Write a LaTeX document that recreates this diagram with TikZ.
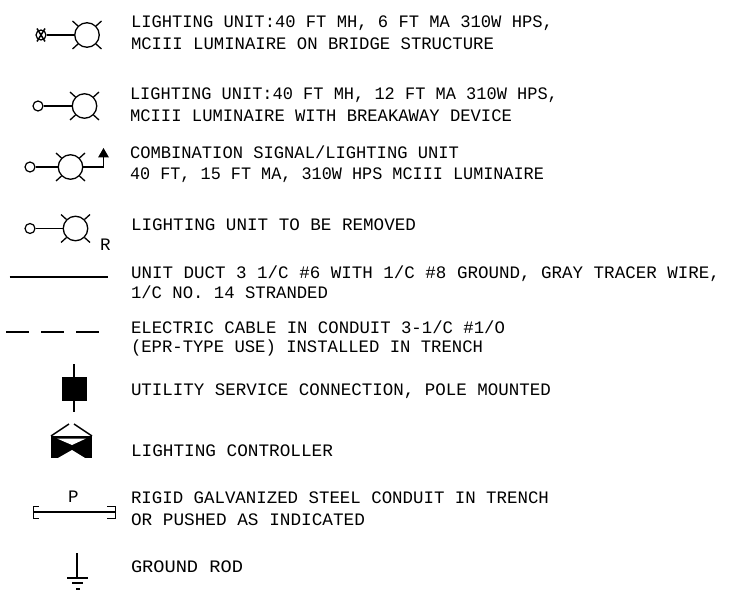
\documentclass[tikz,border=0pt]{standalone}
\usepackage{graphicx}
\usepackage{fontspec}
\setmainfont{Liberation Mono}
\newcommand{\fitline}[2]{\resizebox{#1pt}{\height}{#2}}
\tikzset{
  x=1pt,y=-1pt,
  ln/.style={line width=1.3pt,black},
  lbl/.style={anchor=base west,inner sep=0pt,outer sep=0pt,font=\fontsize{17.5}{17.5}\selectfont},
  lamp/.style={circle,draw,line width=1.3pt,minimum size=24.5pt,inner sep=0pt},
  pole/.style={circle,draw,line width=1.2pt,minimum size=10pt,inner sep=0pt},
  ray/.pic={\draw[ln] (-9,-9)--(-14.5,-14) (9,-9)--(14.5,-14) (-9,9)--(-14.5,14) (9,9)--(14.5,14);}
}
\begin{document}
\begin{tikzpicture}
\useasboundingbox (0,0) rectangle (734,591);
% row 1
\node[pole] (p1) at (41,35) {};
\draw[line width=1.5pt] (37,28.5)--(45,41.5) (45,28.5)--(37,41.5);
\node[lamp] (l1) at (87,35) {};
\pic at (l1.center) {ray};
\draw[ln] (p1)--(l1);
% row 2
\node[pole] (p2) at (38,106) {};
\node[lamp] (l2) at (84.5,106) {};
\pic at (l2.center) {ray};
\draw[ln] (p2)--(l2);
% row 3
\node[pole] (p3) at (30,167) {};
\node[lamp] (l3) at (70.5,167) {};
\pic at (l3.center) {ray};
\coordinate (c3) at (103.5,167);
\coordinate (t3) at (103.5,157);
\draw[ln] (p3)--(l3);
\draw[ln] (l3)--(c3)--(t3);
\fill (98,157.5)--(109,157.5)--(103.5,148)--cycle;
% row 4
\node[pole] (p4) at (30,228.5) {};
\node[lamp] (l4) at (75.5,228.5) {};
\pic at (l4.center) {ray};
\draw[ln] (p4)--(l4);
\node[lbl] (r4) at (100,251) {R};
% line legend
\coordinate (a5) at (9.5,277);\coordinate (b5) at (107.5,277);
\draw[ln] (a5)--(b5);
\coordinate (a6) at (6,332);\coordinate (b6) at (99,332);
\draw[ln,dash pattern=on 23pt off 12pt] (a6)--(b6);
% utility
\node[fill=black,minimum width=25pt,minimum height=24pt,inner sep=0pt] (u) at (74.5,389) {};
\coordinate (ut) at (74,364);\coordinate (ub) at (74,412);
\draw[ln] (ut)--(ub);
% controller
\coordinate (k1) at (51,436);\coordinate (k2) at (92,436);\coordinate (k3) at (92,458);\coordinate (k4) at (51,458);
\fill (k1)--(k2)--(k3)--(k4)--cycle;
\fill[white] (57,438.5)--(86,438.5)--(72,445)--cycle;
\fill[white] (58,458)--(85,458)--(72,450)--cycle;
\draw[line width=1.5pt] (k1)--(69,424) (k2)--(74,424);
% conduit
\coordinate (e1) at (33,512);\coordinate (e2) at (115,512);
\draw[ln] (e1)--(e2);
\draw[line width=0.9pt] (39,506)--(33,506)--(33,518.5)--(39,518.5);
\draw[line width=0.9pt] (107,506)--(115,506)--(115,518.5)--(107,518.5);
\node[lbl] (pp) at (68,502.5) {P};
% ground
\coordinate (g1) at (77,553);\coordinate (g2) at (77,578);
\draw[ln] (g1)--(g2);
\draw[ln] (67,578)--(88,578);
\draw[ln] (72,583)--(83,583);
\draw[ln] (76,589)--(80,589);
% text
\node[lbl] (t1a) at (131,28) {\fitline{422}{LIGHTING UNIT:40 FT MH, 6 FT MA 310W HPS,}};
\node[lbl] (t1b) at (131,49.5) {\fitline{363}{MCIII LUMINAIRE ON BRIDGE STRUCTURE}};
\node[lbl] (t2a) at (130,100) {\fitline{428}{LIGHTING UNIT:40 FT MH, 12 FT MA 310W HPS,}};
\node[lbl] (t2b) at (130,122) {\fitline{382}{MCIII LUMINAIRE WITH BREAKAWAY DEVICE}};
\node[lbl] (t3a) at (130,159) {\fitline{329}{COMBINATION SIGNAL/LIGHTING UNIT}};
\node[lbl] (t3b) at (130,179) {\fitline{414}{40 FT, 15 FT MA, 310W HPS MCIII LUMINAIRE}};
\node[lbl] (t4) at (131,230) {\fitline{285}{LIGHTING UNIT TO BE REMOVED}};
\node[lbl] (t5a) at (131,278) {\fitline{589}{UNIT DUCT 3 1/C \#6 WITH 1/C \#8 GROUND, GRAY TRACER WIRE,}};
\node[lbl] (t5b) at (131,298) {\fitline{197}{1/C NO. 14 STRANDED}};
\node[lbl] (t6a) at (131,333) {\fitline{374}{ELECTRIC CABLE IN CONDUIT 3-1/C \#1/O}};
\node[lbl] (t6b) at (131,352.5) {\fitline{352}{(EPR-TYPE USE) INSTALLED IN TRENCH}};
\node[lbl] (t7) at (131,395.5) {\fitline{420}{UTILITY SERVICE CONNECTION, POLE MOUNTED}};
\node[lbl] (t8) at (131,456) {\fitline{202}{LIGHTING CONTROLLER}};
\node[lbl] (t9a) at (131,503) {\fitline{418}{RIGID GALVANIZED STEEL CONDUIT IN TRENCH}};
\node[lbl] (t9b) at (131,525.5) {\fitline{234}{OR PUSHED AS INDICATED}};
\node[lbl] (t10) at (131,572) {\fitline{112}{GROUND ROD}};
\end{tikzpicture}
\end{document}
